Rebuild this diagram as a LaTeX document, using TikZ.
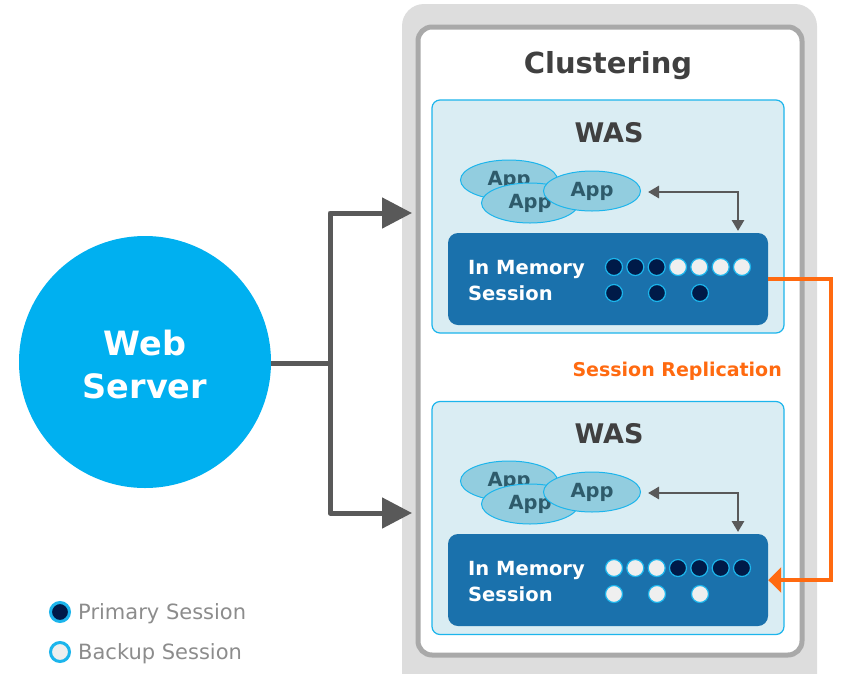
\documentclass[tikz,border=0pt]{standalone}
\usepackage{fontspec}
\setmainfont{DejaVu Sans}
\usetikzlibrary{shapes.geometric,arrows.meta}
\definecolor{outergray}{HTML}{DDDDDD}
\definecolor{innerborder}{HTML}{A9A9A9}
\definecolor{titlegray}{HTML}{404040}
\definecolor{wasfill}{HTML}{DAEDF3}
\definecolor{cyanline}{HTML}{1CB5EC}
\definecolor{appfill}{HTML}{92CDDF}
\definecolor{apptext}{HTML}{2E5B6B}
\definecolor{memfill}{HTML}{1A71AC}
\definecolor{navy}{HTML}{001A48}
\definecolor{lightdot}{HTML}{EFEFEF}
\definecolor{conncol}{HTML}{595959}
\definecolor{repl}{HTML}{FF6A10}
\definecolor{webblue}{HTML}{00B0F0}
\definecolor{legendtext}{HTML}{8C8C8C}
\tikzset{
  wasbox/.style={draw=cyanline, line width=1.2pt, fill=wasfill, rounded corners=8pt,
    minimum width=352pt, minimum height=233pt, inner sep=0pt},
  waslabel/.style={text=titlegray, font=\bfseries\fontsize{27}{30}\selectfont, inner sep=0pt},
  appell/.style={ellipse, draw=cyanline, line width=1pt, fill=appfill, text=apptext,
    font=\bfseries\fontsize{19.5}{22}\selectfont, minimum width=97pt, minimum height=40pt, inner sep=0pt},
  membox/.style={fill=memfill, rounded corners=10pt, minimum width=320pt, minimum height=92pt, inner sep=0pt},
  memtext/.style={text=white, font=\bfseries\fontsize{19.5}{26}\selectfont, align=left, inner sep=0pt, anchor=west},
  pdot/.style={circle, draw=cyanline, line width=1.2pt, fill=navy, minimum size=17pt, inner sep=0pt},
  bdot/.style={circle, draw=cyanline, line width=1.2pt, fill=lightdot, minimum size=17pt, inner sep=0pt},
  garrow/.style={draw=conncol, line width=2.8pt, {Triangle[length=11pt,width=12pt]}-{Triangle[length=11pt,width=12pt]}},
  conn/.style={draw=conncol, line width=5pt},
  connarrow/.style={conn, -{Triangle[length=30pt,width=30pt]}},
  replline/.style={draw=repl, line width=3.5pt, -{Triangle[length=13pt,width=25pt]}},
  legdot/.style={circle, draw=cyanline, line width=3pt, minimum size=19pt, inner sep=0pt},
  legtext/.style={text=legendtext, font=\fontsize{21}{24}\selectfont, anchor=west, inner sep=0pt}
}
\newcommand{\apptxt}{\raisebox{-3pt}{App}}
\begin{document}
\begin{tikzpicture}[x=1pt,y=-1pt]
\useasboundingbox (0,0) rectangle (841,673);
% cluster frames
\fill[outergray, rounded corners=22pt] (402,4) rectangle (817,700);
\draw[innerborder, fill=white, line width=5pt, rounded corners=14pt] (418,27) rectangle (802,655);
\node[text=titlegray, font=\bfseries\fontsize{29}{32}\selectfont, inner sep=0pt] (clust) at (608,66) {Clustering};

% WAS 1
\node[wasbox] (was1) at (608,216.5) {};
\node[waslabel] (was1t) at (609,133) {WAS};
\node[appell] (app11) at (509,180) {\apptxt};
\node[appell] (app12) at (530,203) {\apptxt};
\node[appell] (app13) at (592,191) {\apptxt};
\node[membox] (mem1) at (608,279) {};
\node[memtext] (mem1t) at (468,281) {In Memory\\Session};
\foreach \i/\x in {1/614,2/635.3,3/656.7}{\node[pdot] (a1\i) at (\x,267) {};}
\foreach \i/\x in {4/678,5/699.3,6/720.7,7/742}{\node[bdot] (a1\i) at (\x,267) {};}
\foreach \i/\x in {1/614,2/657,3/700}{\node[pdot] (b1\i) at (\x,293) {};}
\coordinate (g1a) at (648,192);
\coordinate (g1b) at (738,231);
\draw[garrow] (g1a) -| (g1b);

% WAS 2
\node[wasbox] (was2) at (608,518) {};
\node[waslabel] (was2t) at (609,434) {WAS};
\node[appell] (app21) at (509,481) {\apptxt};
\node[appell] (app22) at (530,504) {\apptxt};
\node[appell] (app23) at (592,492) {\apptxt};
\node[membox] (mem2) at (608,580) {};
\node[memtext] (mem2t) at (468,582) {In Memory\\Session};
\foreach \i/\x in {1/614,2/635.3,3/656.7}{\node[bdot] (a2\i) at (\x,568) {};}
\foreach \i/\x in {4/678,5/699.3,6/720.7,7/742}{\node[pdot] (a2\i) at (\x,568) {};}
\foreach \i/\x in {1/614,2/657,3/700}{\node[bdot] (b2\i) at (\x,594) {};}
\coordinate (g2a) at (648,493);
\coordinate (g2b) at (738,532);
\draw[garrow] (g2a) -| (g2b);

% replication
\coordinate (rc) at (831,279);
\draw[replline] (mem1.east) -- (rc) |- (mem2.east);
\node[text=repl, font=\bfseries\fontsize{19}{22}\selectfont, anchor=east, inner sep=0pt] (repllabel) at (782,371) {Session Replication};

% web server
\node[circle, fill=webblue, minimum size=252pt, inner sep=0pt] (web) at (145,362) {};
\node[text=white, font=\bfseries\fontsize{33.5}{43}\selectfont, align=center, inner sep=0pt] (webt) at (145,365) {Web\\Server};
\coordinate (junc) at (330,363);
\coordinate (tip1) at (412,213);
\coordinate (tip2) at (412,513);
\draw[conn] (web.east |- junc) -- (junc);
\draw[connarrow, line join=round] (junc) |- (tip1);
\draw[connarrow, line join=round] (junc) |- (tip2);

% legend
\node[legdot, fill=navy] (lp) at (60,612) {};
\node[legtext] (lpt) at (78,614) {Primary Session};
\node[legdot, fill=lightdot] (lb) at (60,652) {};
\node[legtext] (lbt) at (78,654) {Backup Session};
\end{tikzpicture}
\end{document}
